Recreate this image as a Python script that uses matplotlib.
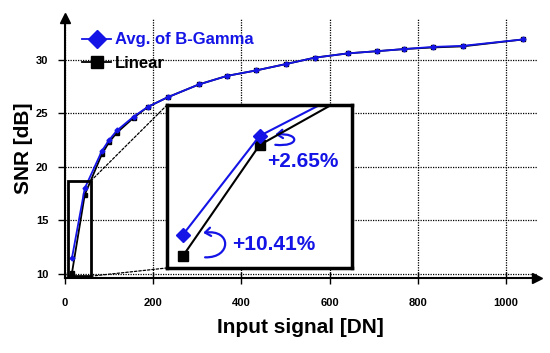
import numpy as np
import matplotlib.pyplot as plt
from matplotlib.patches import Rectangle, FancyArrowPatch, ConnectionPatch
from matplotlib.path import Path

plt.rcParams['font.family'] = ['Liberation Sans', 'DejaVu Sans']
plt.rcParams['font.weight'] = 'bold'

# datos
x_dn = [16, 45, 84, 100, 118, 156, 188, 233, 304, 368, 433, 501, 567, 642, 707, 769, 834, 902, 1039]
snr_bgamma = [11.5, 18.0, 21.5, 22.5, 23.4, 24.7, 25.6, 26.5, 27.7, 28.5, 29.0, 29.6, 30.2, 30.6, 30.8, 31.0, 31.2, 31.3, 31.9]
snr_linear = [10.1, 17.4, 21.2, 22.3, 23.2, 24.6, 25.6, 26.5, 27.7, 28.5, 29.0, 29.6, 30.2, 30.6, 30.8, 31.0, 31.15, 31.25, 31.9]
xticks = [0, 200, 400, 600, 800, 1000]
yticks = [10, 15, 20, 25, 30]
mejora_bajo = '+10.41%'
mejora_alto = '+2.65%'

azul = '#1414e6'

fig = plt.figure(figsize=(5.5, 3.53), dpi=100)
ax = fig.add_axes([0.118, 0.2125, 0.858, 0.7365])

ax.plot(x_dn, snr_linear, color='black', lw=1.3, marker='s', ms=3, zorder=3, label='Linear')
ax.plot(x_dn, snr_bgamma, color=azul, lw=1.3, marker='D', ms=2.5, zorder=4, label='Avg. of B-Gamma')

ax.set_xlim(0, 1070)
ax.set_ylim(9.63, 33.9)
ax.set_xticks(xticks)
ax.set_yticks(yticks)
ax.grid(True, color='black', lw=0.9, linestyle=(0, (1, 1)))
ax.set_axisbelow(True)

for s in ['top', 'right']:
    ax.spines[s].set_visible(False)
for s in ['left', 'bottom']:
    ax.spines[s].set_linewidth(1.5)
ax.plot(1, 0, '>k', ms=7, transform=ax.transAxes, clip_on=False)
ax.plot(0, 1, '^k', ms=7, transform=ax.transAxes, clip_on=False)

ax.tick_params(axis='x', direction='inout', length=9, width=1, pad=10, labelsize=8)
ax.tick_params(axis='y', direction='out', length=5, width=1, pad=7, labelsize=8)
ax.set_xlabel('Input signal [DN]', fontsize=15, fontweight='bold', labelpad=7)
ax.set_ylabel('SNR [dB]', fontsize=15, fontweight='bold', labelpad=2)

# leyenda
h, l = ax.get_legend_handles_labels()
leg = fig.legend(h[::-1], l[::-1], loc='upper left', bbox_to_anchor=(0.149, 0.908),
                 frameon=False, borderpad=0, borderaxespad=0, handlelength=1.75,
                 handletextpad=0.25, labelspacing=0.5, prop={'size': 12, 'weight': 'bold'})
leg.get_texts()[0].set_color(azul)
for lh in leg.legend_handles:
    lh.set_markersize(9)

# recuadro pequeño y zoom
ax.add_patch(Rectangle((7, 9.8), 52, 8.9, fill=False, lw=2, ec='black', zorder=6))

axins = fig.add_axes([0.304, 0.241, 0.336, 0.462])
axins.plot(x_dn, snr_linear, color='black', lw=1.5, marker='s', ms=7, markevery=[0, 1])
axins.plot(x_dn, snr_bgamma, color=azul, lw=1.5, marker='D', ms=7, markevery=[0, 1])
axins.set_xlim(10, 80)
axins.set_ylim(9.3, 20.05)
axins.set_xticks([])
axins.set_yticks([])
for s in axins.spines.values():
    s.set_linewidth(2.5)

for ya, yb in [(18.7, 1), (9.8, 0)]:
    con = ConnectionPatch(xyA=(59, ya), coordsA=ax.transData, xyB=(0, yb), coordsB=axins.transAxes,
                          color='black', lw=0.9, linestyle=(0, (2, 1.5)), zorder=1)
    fig.add_artist(con)

axins.text(0.576, 0.141, mejora_bajo, transform=axins.transAxes, color=azul,
           fontsize=15, fontweight='bold', ha='center', va='center')
axins.text(0.735, 0.65, mejora_alto, transform=axins.transAxes, color=azul,
           fontsize=15, fontweight='bold', ha='center', va='center')

curva = [Path.MOVETO, Path.CURVE4, Path.CURVE4, Path.CURVE4]
p1 = Path([(0.205, 0.065), (0.35, 0.06), (0.35, 0.24), (0.195, 0.215)], curva)
p2 = Path([(0.585, 0.755), (0.72, 0.74), (0.72, 0.83), (0.585, 0.818)], curva)
for p in [p1, p2]:
    fl = FancyArrowPatch(path=p, transform=axins.transAxes,
                         arrowstyle='->,head_length=4,head_width=3', color=azul, lw=1.6)
    axins.add_patch(fl)

plt.savefig('out.png', dpi=100)
